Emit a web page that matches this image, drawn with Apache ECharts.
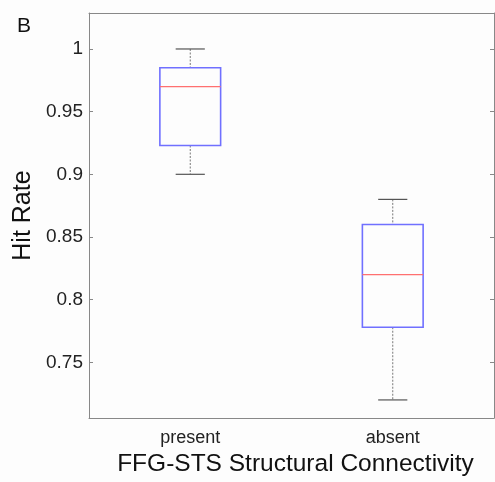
<!DOCTYPE html>
<html>
<head>
<meta charset="utf-8">
<script src="https://cdn.jsdelivr.net/npm/echarts@6/dist/echarts.min.js"></script>
<style>html,body{margin:0;padding:0;background:#fff;}#c{width:495px;height:482px;}</style>
</head>
<body>
<div id="c"></div>
<script>
const categories = ['present', 'absent'];
const whiskerLow = [0.90, 0.72];
const q1 = [0.923, 0.778];
const medians = [0.970, 0.820];
const q3 = [0.985, 0.860];
const whiskerHigh = [1.00, 0.88];
const yTicks = [0.75, 0.8, 0.85, 0.9, 0.95, 1];
const yMin = 0.7055, yMax = 1.0287;

const data = categories.map((c, i) => [i, whiskerLow[i], q1[i], medians[i], q3[i], whiskerHigh[i]]);
const FONT = "'Liberation Sans', Arial, sans-serif";

const chart = echarts.init(document.getElementById('c'));
chart.setOption({
  backgroundColor: '#fdfdfd',
  animation: false,
  textStyle: { fontFamily: FONT },
  graphic: [{ type: 'text', left: 17, top: 16, style: { text: 'B', font: "21px " + FONT, fill: '#111' } }],
  grid: { left: 89, right: 1, top: 13, bottom: 63 },
  xAxis: [{
    type: 'category', data: categories, boundaryGap: true,
    axisLine: { lineStyle: { color: '#888', width: 1 } },
    axisTick: { inside: true, alignWithLabel: true, length: 4, lineStyle: { color: '#888' } },
    axisLabel: { fontSize: 18, color: '#222', margin: 11, fontFamily: FONT },
    name: 'FFG-STS Structural Connectivity', nameLocation: 'middle', nameGap: 29,
    nameTextStyle: { fontSize: 24.5, color: '#111', fontFamily: FONT, padding: [0, 0, 0, 8] }
  }, {
    type: 'category', data: categories, boundaryGap: true, position: 'top',
    axisLine: { lineStyle: { color: '#888', width: 1 } },
    axisTick: { inside: true, alignWithLabel: true, length: 4, lineStyle: { color: '#888' } },
    axisLabel: { show: false }
  }],
  yAxis: [{
    type: 'value', min: yMin, max: yMax,
    axisLine: { show: true, lineStyle: { color: '#888', width: 1 } },
    axisTick: { show: true, inside: true, length: 4, customValues: yTicks, lineStyle: { color: '#888' } },
    axisLabel: { fontSize: 19, color: '#222', margin: 6, customValues: yTicks, fontFamily: FONT, formatter: v => String(v) },
    splitLine: { show: false },
    name: 'Hit Rate', nameLocation: 'middle', nameGap: 52,
    nameTextStyle: { fontSize: 25, color: '#111', fontFamily: FONT }
  }, {
    type: 'value', min: yMin, max: yMax, position: 'right',
    axisLine: { show: true, lineStyle: { color: '#888', width: 1 } },
    axisTick: { show: true, inside: true, length: 4, customValues: yTicks, lineStyle: { color: '#888' } },
    axisLabel: { show: false },
    splitLine: { show: false }
  }],
  series: [{
    type: 'custom',
    data: data,
    encode: { x: 0, y: [1, 2, 3, 4, 5] },
    renderItem: function (params, api) {
      const i = api.value(0);
      const band = api.size([1, 0])[0];
      const bw = band * 0.30, cw = band * 0.072;
      const pLo = api.coord([i, api.value(1)]);
      const pQ1 = api.coord([i, api.value(2)]);
      const pMed = api.coord([i, api.value(3)]);
      const pQ3 = api.coord([i, api.value(4)]);
      const pHi = api.coord([i, api.value(5)]);
      const x = pLo[0];
      const dash = { stroke: '#777', lineWidth: 1, lineDash: [2, 1.5] };
      const cap = { stroke: '#555', lineWidth: 1.2 };
      return {
        type: 'group',
        children: [
          { type: 'line', shape: { x1: x, y1: pHi[1], x2: x, y2: pQ3[1] }, style: dash },
          { type: 'line', shape: { x1: x, y1: pQ1[1], x2: x, y2: pLo[1] }, style: dash },
          { type: 'line', shape: { x1: x - cw, y1: pHi[1], x2: x + cw, y2: pHi[1] }, style: cap },
          { type: 'line', shape: { x1: x - cw, y1: pLo[1], x2: x + cw, y2: pLo[1] }, style: cap },
          { type: 'rect', shape: { x: x - bw / 2, y: pQ3[1], width: bw, height: pQ1[1] - pQ3[1] }, style: { fill: 'none', stroke: '#7070ff', lineWidth: 1.6 } },
          { type: 'line', shape: { x1: x - bw / 2, y1: pMed[1], x2: x + bw / 2, y2: pMed[1] }, style: { stroke: '#ff7070', lineWidth: 1.2 } }
        ]
      };
    }
  }]
});
</script>
</body>
</html>
